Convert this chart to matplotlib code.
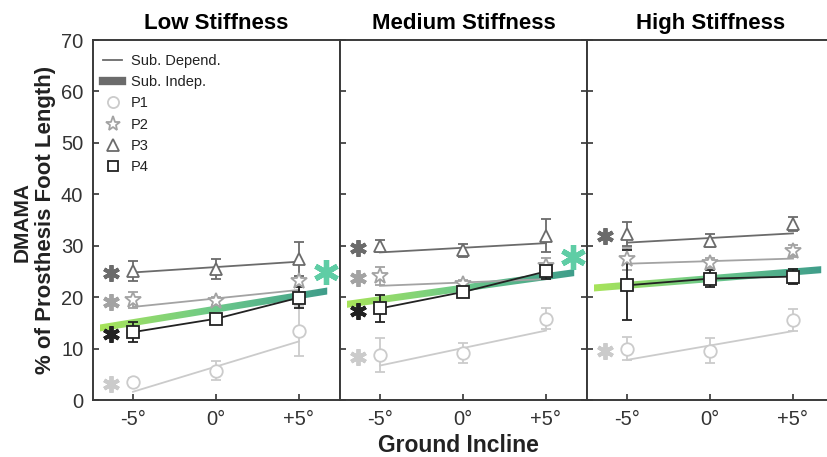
import numpy as np
import matplotlib
matplotlib.use("Agg")
import matplotlib.pyplot as plt
from matplotlib.colors import LinearSegmentedColormap
from matplotlib.lines import Line2D
from matplotlib.patches import Polygon

plt.rcParams['font.family'] = ['Liberation Sans', 'DejaVu Sans']

#%%
# data

incline = [-5, 0, 5]
incline_labels = ['-5°', '0°', '+5°']
titles = ['Low Stiffness', 'Medium Stiffness', 'High Stiffness']
participants = ['P1', 'P2', 'P3', 'P4']

# means at each incline, one row per participant (P1..P4)
low_mean = [[3.5, 5.7, 13.4], [19.4, 19.2, 23.1], [25.1, 25.5, 27.5], [13.2, 15.8, 19.9]]
low_err = [[0.8, 1.8, 4.8], [1.6, 0.8, 1.0], [2.0, 1.9, 3.3], [2.0, 0.8, 2.0]]
med_mean = [[8.8, 9.1, 15.8], [24.1, 22.5, 26.1], [29.9, 29.1, 31.9], [17.8, 21.0, 25.0]]
med_err = [[3.3, 2.0, 2.0], [1.8, 0.8, 1.5], [1.2, 1.3, 3.2], [2.7, 0.6, 1.5]]
high_mean = [[10.0, 9.6, 15.6], [27.4, 26.7, 29.0], [32.3, 31.0, 34.2], [22.3, 23.6, 24.0]]
high_err = [[2.2, 2.5, 2.1], [2.1, 1.0, 1.2], [2.4, 1.3, 1.4], [6.8, 1.7, 1.4]]

# subject dependent fits, value at -5 and +5 (P4 drawn through its means)
low_dep = [[1.6, 11.4], [18.1, 21.4], [24.8, 26.9]]
med_dep = [[6.7, 13.5], [22.2, 23.5], [28.7, 30.5]]
high_dep = [[7.8, 13.4], [26.5, 27.5], [30.6, 32.4]]

# subject independent fit, value at -5 and +5
low_indep = [15.05, 20.3]
med_indep = [19.5, 24.0]
high_indep = [22.3, 24.9]

# which participants got a significance star, and the big green one
low_star = [True, True, True, True]
med_star = [True, True, True, True]
high_star = [True, False, True, False]
indep_star_y = [24.8, 27.9, None]

means = [low_mean, med_mean, high_mean]
errs = [low_err, med_err, high_err]
deps = [low_dep, med_dep, high_dep]
indeps = [low_indep, med_indep, high_indep]
stars = [low_star, med_star, high_star]

#%%
colors = ['#cbcbcb', '#a3a3a3', '#6b6b6b', '#222222']
markers = ['o', '*', '^', 's']
msizes = [9, 12, 9, 8]
band_cmap = LinearSegmentedColormap.from_list('band', ['#a8e45a', '#6cc98a', '#3f9d8a'])
dark = '#333333'

fig = plt.figure(figsize=(8.27, 4.57), dpi=100)
W, H = 827, 457
axes = []
for i in range(3):
    left = 93 + 247 * i
    ax = fig.add_axes([left / W, 1 - 400 / H, 247 / W, 360 / H])
    axes.append(ax)

for i, ax in enumerate(axes):
    m = np.array(means[i])
    e = np.array(errs[i])

    # subject independent band, gradient image clipped to a thick line
    x0, x1 = -7.0, 6.7
    slope = (indeps[i][1] - indeps[i][0]) / 10
    y0 = indeps[i][0] + slope * (x0 + 5)
    y1 = indeps[i][0] + slope * (x1 + 5)
    half = 0.68
    poly = Polygon([[x0, y0 - half], [x1, y1 - half], [x1, y1 + half], [x0, y0 + half]],
                   closed=True, facecolor='none', edgecolor='none')
    ax.add_patch(poly)
    grad = np.linspace(0, 1, 256).reshape(1, -1)
    im = ax.imshow(grad, cmap=band_cmap, aspect='auto', interpolation='bilinear',
                   extent=[x0, x1, min(y0, y1) - 1, max(y0, y1) + 1], zorder=2)
    im.set_clip_path(poly)

    for p in range(4):
        c = colors[p]
        if p < 3:
            ax.plot([-5, 5], deps[i][p], color=c, lw=1.3, zorder=3)
        else:
            ax.plot(incline, m[p], color=c, lw=1.3, zorder=3)
        ax.errorbar(incline, m[p], yerr=e[p], fmt=markers[p], color=c, ms=msizes[p],
                    mfc='white', mec=c, mew=1.3, ecolor=c, elinewidth=1.3,
                    capsize=3.5, capthick=1.3, zorder=4)
        if stars[i][p]:
            ax.plot(-6.3, m[p][0] - 0.4, marker=(6, 2, 0), ms=12, mew=2.8,
                    color=c, zorder=5)

    if indep_star_y[i] is not None:
        ax.plot(6.65, indep_star_y[i], marker=(6, 2, 0), ms=18, mew=3.8,
                color='#5fcda5', zorder=5)

    ax.set_xlim(-7.41, 7.47)
    ax.set_ylim(0, 70)
    ax.set_xticks(incline)
    ax.set_xticklabels(incline_labels)
    ax.set_yticks(range(0, 71, 10))
    ax.tick_params(direction='in', length=4, width=1.2, colors=dark,
                   labelsize=14.5, labelcolor='#333333', pad=7)
    if i == 1:
        ax.tick_params(axis='y', right=True)
    if i > 0:
        ax.set_yticklabels([])
    for s in ax.spines.values():
        s.set_color('#3a3a3a')
        s.set_linewidth(1.4)
    ax.set_title(titles[i], fontsize=16, fontweight='bold', pad=8)

# legend in the first panel
handles = [Line2D([], [], color='#6b6b6b', lw=1.3),
           Line2D([], [], color='#6b6b6b', lw=6)]
for p in range(4):
    handles.append(Line2D([], [], ls='none', marker=markers[p], ms=msizes[p] - 1,
                          mfc='white', mec=colors[p], mew=1.3))
axes[0].legend(handles, ['Sub. Depend.', 'Sub. Indep.'] + participants,
               loc='upper left', frameon=False, fontsize=10.5, handlelength=1.3,
               handletextpad=0.6, labelspacing=0.5, borderaxespad=0.3,
               bbox_to_anchor=(0.0, 0.99), labelcolor='#222222')

fig.text(458 / W, 1 - 446 / H, 'Ground Incline', ha='center', va='center',
         fontsize=16.5, fontweight='bold', color='#222222')
fig.text(22 / W, 1 - 222 / H, 'DMAMA', ha='center', va='center', rotation=90,
         fontsize=15, fontweight='bold', color='#222222')
fig.text(46 / W, 1 - 220 / H, '% of Prosthesis Foot Length)', ha='center', va='center',
         rotation=90, fontsize=16, fontweight='bold', color='#222222')

fig.savefig('out.png', dpi=100)
